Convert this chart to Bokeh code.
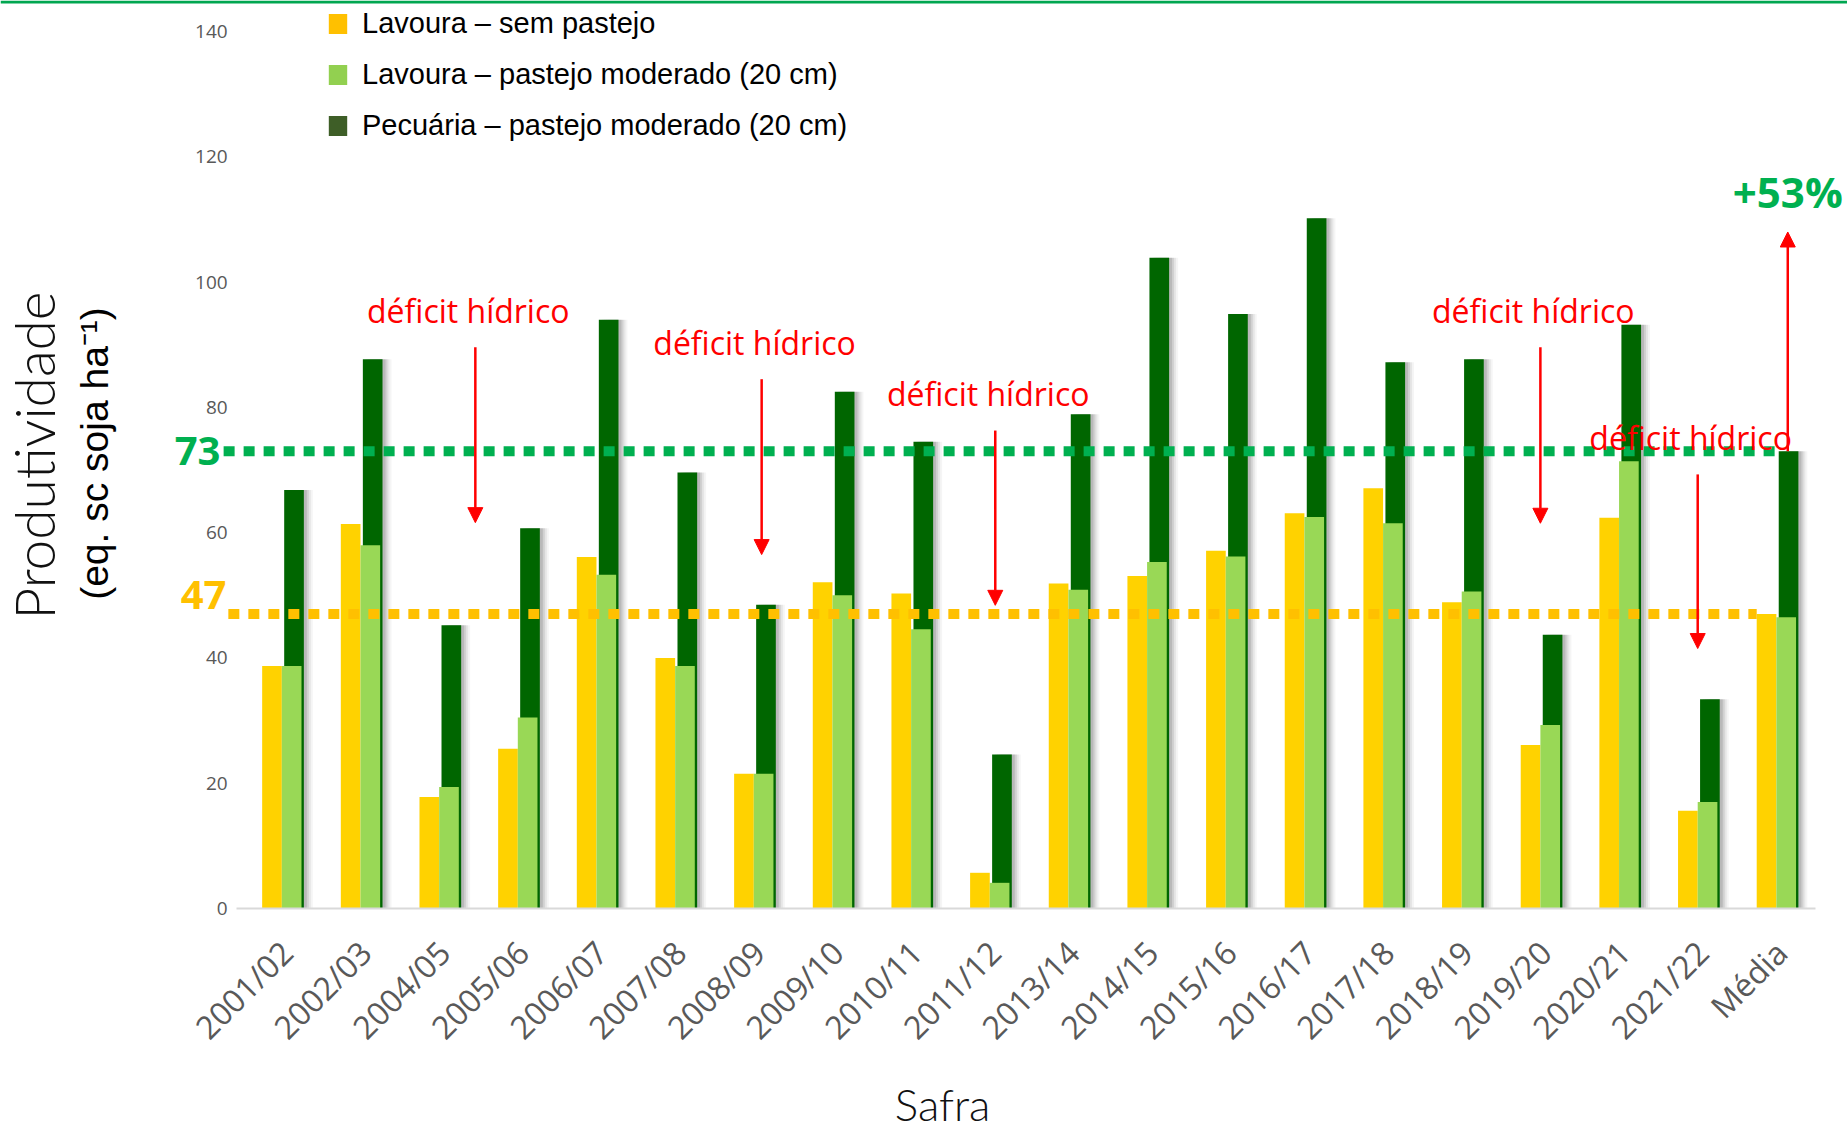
from math import pi

from bokeh.embed import file_html
from bokeh.models import (Arrow, BoxAnnotation, ColumnDataSource, FixedTicker,
                          Label, Legend, LegendItem, NormalHead, Range1d)
from bokeh.plotting import figure
from bokeh.resources import INLINE
from bokeh.transform import dodge

# ---- data -------------------------------------------------------------
safras = ["2001/02", "2002/03", "2004/05", "2005/06", "2006/07", "2007/08",
          "2008/09", "2009/10", "2010/11", "2011/12", "2013/14", "2014/15",
          "2015/16", "2016/17", "2017/18", "2018/19", "2019/20", "2020/21",
          "2021/22", "Média"]

# produtividade (eq. sc soja/ha)
lavoura_sem_pastejo = [38.7, 61.4, 17.8, 25.5, 56.1, 40.0, 21.5, 52.1, 50.3, 5.7,
                       51.9, 53.1, 57.1, 63.1, 67.1, 48.9, 26.1, 62.4, 15.6, 47.0]
lavoura_pastejo = [38.7, 58.0, 19.4, 30.5, 53.3, 38.7, 21.5, 50.0, 44.6, 4.1,
                   50.9, 55.3, 56.2, 62.5, 61.5, 50.6, 29.3, 71.4, 17.0, 46.5]
pecuaria_pastejo = [28.1, 29.7, 25.8, 30.2, 40.7, 30.9, 27.0, 32.5, 29.9, 20.5,
                    28.0, 48.6, 38.7, 47.7, 25.7, 37.1, 14.4, 21.8, 16.4, 26.5]

media_sem_pastejo = 47
media_sistema = 73
ganho_sistema = "+53%"

y_ticks = [0, 20, 40, 60, 80, 100, 120, 140]

serie_nomes = ["Lavoura – sem pastejo",
               "Lavoura – pastejo moderado (20 cm)",
               "Pecuária – pastejo moderado (20 cm)"]

# safras com déficit hídrico: deslocamento da seta, início e ponta da seta
seca_safras = ["2004/05", "2008/09", "2011/12", "2019/20", "2021/22"]
seca_desloc = [0.46, 0.10, 0.07, 0.0, 0.0]
seca_inicio = [89.6, 84.5, 76.3, 89.6, 69.3]
seca_ponta = [61.6, 56.5, 48.4, 61.5, 41.5]

# ---- page geometry ------------------------------------------------------
W, H = 1847, 1131
PX_CAT = 78.66        # pixels per season
PX_UNIT = 6.264       # pixels per sc/ha
AXIS_X_PX = 230.2     # where the value axis sits
BASE_Y_PX = 908       # where zero sits (from the top)
X0 = -0.15            # value-axis position in season units

# ---- styling ----------------------------------------------------------
C_SEM = "#FFD200"
C_PAST = "#99D856"
C_PEC = "#006600"
LEG_COLORS = ["#FFC000", "#92D050", "#3E5E27"]
C_LINE_SIS = "#00B050"
C_LINE_SEM = "#FFC000"
C_RED = "#FF0000"
GRAY = "#595959"
LIGHT_FONT = "'Lato Light', Lato, sans-serif"

n = len(safras)
centers = [i + 0.5 for i in range(n)]
sistema_total = [a + b for a, b in zip(lavoura_pastejo, pecuaria_pastejo)]

src = ColumnDataSource(dict(
    x=centers,
    safra=safras,
    sem=lavoura_sem_pastejo,
    past=lavoura_pastejo,
    total=sistema_total,
))

x_start = X0 - AXIS_X_PX / PX_CAT
x_end = X0 + (W - AXIS_X_PX) / PX_CAT
y_start = -(H - BASE_Y_PX) / PX_UNIT
y_end = BASE_Y_PX / PX_UNIT

p = figure(
    width=W, height=H,
    x_range=Range1d(x_start, x_end), y_range=Range1d(y_start, y_end),
    output_backend="svg", toolbar_location=None,
    min_border=0, min_border_left=0, min_border_right=0,
    min_border_top=0, min_border_bottom=0,
    background_fill_color="white", border_fill_color="white",
)
p.outline_line_color = None
p.xgrid.grid_line_color = None
p.ygrid.grid_line_color = None

# thin green rule across the top of the page
p.add_layout(BoxAnnotation(bottom=H - 3, bottom_units="screen",
                           fill_color="#00A650", fill_alpha=1, line_color=None))

BW = 0.25
PX = 1 / PX_CAT  # one screen pixel in x data units

# soft shadow on the right of the stacked bars
for k, a in [(3, 0.11), (5, 0.09), (7, 0.06), (9, 0.04)]:
    p.vbar(x=dodge("x", 0.155 + k * PX, range=p.x_range), top="total", width=BW,
           source=src, fill_color="black", fill_alpha=a, line_color=None)

# pecuária segment sits on top of the lavoura-pastejo bar
p.vbar(x=dodge("x", 0.155, range=p.x_range), top="total", width=BW,
       source=src, fill_color=C_PEC, line_color=None)
p.vbar(x=dodge("x", -0.125, range=p.x_range), top="sem", width=BW,
       source=src, fill_color=C_SEM, line_color=None)
p.vbar(x=dodge("x", 0.125, range=p.x_range), top="past", width=BW,
       source=src, fill_color=C_PAST, line_color=None)

# average reference lines
last = centers[-1]
p.segment(x0=[X0 - 0.09], x1=[last + 0.155 - BW / 2],
          y0=[media_sistema], y1=[media_sistema],
          line_color=C_LINE_SIS, line_width=10, line_dash="11 9")
p.segment(x0=[X0 - 0.03], x1=[last - 0.125 - BW / 2],
          y0=[media_sem_pastejo], y1=[media_sem_pastejo],
          line_color=C_LINE_SEM, line_width=10, line_dash="11 9")

p.add_layout(Label(x=197, y=media_sistema, x_units="screen", text=str(media_sistema),
                   text_align="center", text_baseline="middle",
                   text_font="Open Sans", text_font_style="bold",
                   text_font_size="40px", text_color=C_LINE_SIS))
p.add_layout(Label(x=203, y=media_sem_pastejo + 3, x_units="screen",
                   text=str(media_sem_pastejo),
                   text_align="center", text_baseline="middle",
                   text_font="Open Sans", text_font_style="bold",
                   text_font_size="40px", text_color=C_LINE_SEM))

# déficit hídrico annotations
for s, d, y0, y1 in zip(seca_safras, seca_desloc, seca_inicio, seca_ponta):
    xa = centers[safras.index(s)] + d
    p.add_layout(Arrow(x_start=xa, y_start=y0, x_end=xa, y_end=y1,
                       line_color=C_RED, line_width=2.5,
                       end=NormalHead(size=15, fill_color=C_RED, line_color=C_RED)))
    p.add_layout(Label(x=xa - 0.09, y=y0 + 5.9, text="déficit hídrico",
                       text_align="center", text_baseline="middle",
                       text_font="Open Sans", text_font_size="32px",
                       text_color=C_RED))

# system gain arrow on the average
xg = last + 0.145
p.add_layout(Arrow(x_start=xg, y_start=media_sistema, x_end=xg, y_end=108,
                   line_color=C_RED, line_width=2.5,
                   end=NormalHead(size=15, fill_color=C_RED, line_color=C_RED)))
p.add_layout(Label(x=xg, y=114.5, text=ganho_sistema,
                   text_align="center", text_baseline="middle",
                   text_font="Open Sans", text_font_style="bold",
                   text_font_size="42px", text_color=C_LINE_SIS))

# ---- axes ---------------------------------------------------------------
LBL_SHIFT = 0.06
xax = p.xaxis[0]
xax.fixed_location = 0
xax.bounds = (X0 + 0.07, n)
xax.ticker = FixedTicker(ticks=[c + LBL_SHIFT for c in centers])
xax.major_label_overrides = {c + LBL_SHIFT: s for c, s in zip(centers, safras)}
xax.major_label_orientation = pi / 4
xax.major_label_text_font = "Open Sans"
xax.major_label_text_font_size = "32px"
xax.major_label_text_color = GRAY
xax.major_label_standoff = 38
xax.major_tick_line_color = None
xax.major_tick_out = 0
xax.major_tick_in = 0
xax.minor_tick_line_color = None
xax.axis_line_color = "#D9D9D9"
xax.axis_line_width = 2

yax = p.yaxis[0]
yax.fixed_location = X0
yax.bounds = (0, 140)
yax.ticker = FixedTicker(ticks=y_ticks)
yax.major_label_text_font = "Open Sans"
yax.major_label_text_font_size = "19px"
yax.major_label_text_color = GRAY
yax.major_label_standoff = 3
yax.major_tick_line_color = None
yax.major_tick_out = 0
yax.major_tick_in = 0
yax.minor_tick_line_color = None
yax.axis_line_color = None

# axis titles
p.add_layout(Label(x=942, y=H - 1103, x_units="screen", y_units="screen",
                   text="Safra", text_align="center", text_baseline="middle",
                   text_font=LIGHT_FONT, text_font_size="44px",
                   text_color="#111111"))
p.add_layout(Label(x=33, y=H - 455, x_units="screen", y_units="screen",
                   text="Produtividade", angle=pi / 2,
                   text_align="center", text_baseline="middle",
                   text_font=LIGHT_FONT,
                   text_font_size="55px", text_color="#111111"))
p.add_layout(Label(x=94, y=H - 453, x_units="screen", y_units="screen",
                   text="(eq. sc soja ha⁻¹)", angle=pi / 2,
                   text_align="center", text_baseline="middle",
                   text_font="Liberation Sans",
                   text_font_size="39px", text_color="black"))

# ---- legend -------------------------------------------------------------
nan_src = ColumnDataSource(dict(x=[float("nan")], y=[float("nan")]))
dummies = [p.rect(x="x", y="y", width=1, height=1, source=nan_src,
                  fill_color=c, line_color=None) for c in LEG_COLORS]
legend = Legend(
    items=[LegendItem(label=nm, renderers=[r]) for nm, r in zip(serie_nomes, dummies)],
    location=(326, H - 142), orientation="vertical",
    glyph_width=23, glyph_height=25, label_standoff=13,
    label_height=25, spacing=18, padding=0, margin=0,
    label_text_font="Liberation Sans", label_text_font_size="29px",
    label_text_color="black",
    border_line_color=None, background_fill_alpha=0,
)
p.add_layout(legend)

open("out.html", "w").write(file_html(p, INLINE))
